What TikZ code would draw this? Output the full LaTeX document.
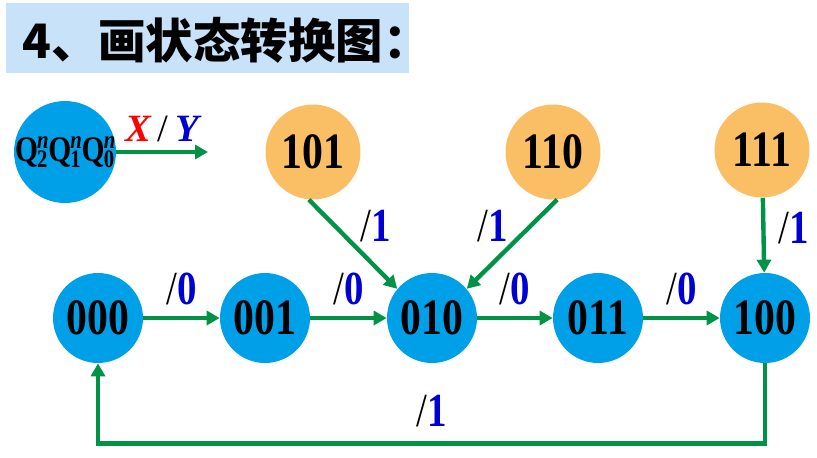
\documentclass[tikz,border=0pt]{standalone}
\usepackage{fontspec}
\setmainfont{Liberation Serif}
\newfontfamily\cjk{Noto Sans CJK SC}
\newfontfamily\numfont{Liberation Serif}[FakeStretch=0.82]
\usetikzlibrary{arrows.meta}
\definecolor{stblue}{RGB}{0,160,233}
\definecolor{storange}{RGB}{250,190,100}
\definecolor{trgreen}{RGB}{0,146,69}
\definecolor{lblblue}{RGB}{0,0,210}
\definecolor{titlebg}{RGB}{200,226,250}
\newcommand{\qn}[1]{Q\kern-0.5pt\rlap{\textsuperscript{\itshape n}}\textsubscript{#1}}
\newcommand{\outlbl}[1]{{\mdseries /}\textcolor{lblblue}{#1}}
\begin{document}
\begin{tikzpicture}[x=0.02cm,y=-0.02cm,
		cur/.style={circle,fill=stblue,minimum size=1.8cm,inner sep=0pt,
			font=\numfont\bfseries\fontsize{29}{29}\selectfont},
		unused/.style={cur,fill=storange,minimum size=1.9cm},
		trans/.style={draw=trgreen,line width=2.5pt,-{Triangle[length=2.6mm,width=2.8mm]}},
		lbl/.style={font=\numfont\bfseries\fontsize{27}{27}\selectfont}]
			\useasboundingbox (0,0) rectangle (817,457);
			% title
			\fill[titlebg] (6,3) rectangle (409,73);
			\node[anchor=west,font=\cjk\bfseries\fontsize{27}{27}\selectfont] (title) at (16,40) {4、画状态转换图：};
			% legend
			\node[cur,minimum size=2.04cm,inner sep=-10pt,font=\numfont\bfseries\fontsize{20.5}{20.5}\selectfont] (legend) at (65,152) {\qn{2}\qn{1}\qn{0}};
			\coordinate (lgend) at (208,152);
			\draw[trans] (legend.east) -- (lgend)
				node[midway,above=1pt,font=\bfseries\itshape\fontsize{22}{22}\selectfont]
				{\textcolor{red}{X}\,{\mdseries\upshape /}\,\textcolor{lblblue}{Y}};
			% valid states
			\node[cur] (s000) at (98,318) {000};
			\node[cur] (s001) at (265,318) {001};
			\node[cur] (s010) at (432,318) {010};
			\node[cur] (s011) at (598,318) {011};
			\node[cur] (s100) at (765,318) {100};
			% unused states
			\node[unused] (s101) at (313,152) {101};
			\node[unused] (s110) at (553,152) {110};
			\node[unused] (s111) at (762,150) {111};
			% transitions
			\draw[trans] (s000) -- (s001) node[lbl,midway,above=3pt] {\outlbl{0}};
			\draw[trans] (s001) -- (s010) node[lbl,midway,above=3pt] {\outlbl{0}};
			\draw[trans] (s010) -- (s011) node[lbl,midway,above=3pt] {\outlbl{0}};
			\draw[trans] (s011) -- (s100) node[lbl,midway,above=3pt] {\outlbl{0}};
			\draw[trans] (s101.265) -- (s010.140) node[lbl,pos=0.3,right=10pt] {\outlbl{1}};
			\draw[trans] (s110.275) -- (s010.40) node[lbl,pos=0.3,left=8pt] {\outlbl{1}};
			\draw[trans] (s111) -- (s100) node[lbl,pos=0.4,right=4pt] {\outlbl{1}};
			\draw[trans] (s100.south) -- ++(0,80) -| (s000.south)
				node[lbl,pos=0.25,above=5pt] {\outlbl{1}};
		\end{tikzpicture}
\end{document}
